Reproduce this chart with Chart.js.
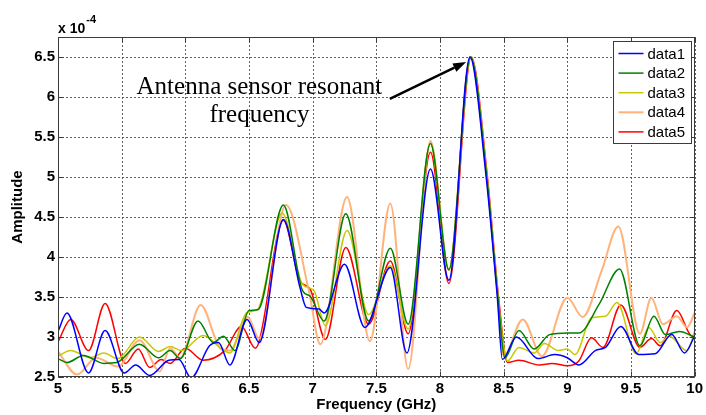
<!DOCTYPE html>
<html>
<head>
<meta charset="utf-8">
<script src="https://cdn.jsdelivr.net/npm/chart.js@4.4.1/dist/chart.umd.min.js"></script>
<style>
  html, body { margin: 0; padding: 0; background: #fff; }
  #wrap { width: 706px; height: 415px; }
</style>
</head>
<body>
<div id="wrap"><canvas id="c" width="706" height="415"></canvas></div>
<script>
// Amplitude spectra of five sensor measurements (amplitude in units of 1e-4)
const seriesNames  = ['data1', 'data2', 'data3', 'data4', 'data5'];
const seriesColors = ['#0000FF', '#008000', '#C8C800', '#FFB27A', '#FF0000'];
const seriesWidths = [1.5, 1.5, 1.5, 2, 1.5];

const data1Freq = [5.00, 5.07, 5.24, 5.37, 5.52, 5.61, 5.72, 5.87, 5.95, 6.045, 6.19, 6.26, 6.35, 6.485, 6.58, 6.77, 6.90, 6.95, 7.05, 7.09, 7.25, 7.41, 7.61, 7.74, 7.925, 8.07, 8.235, 8.36, 8.45, 8.49, 8.60, 8.77, 8.90, 9.00, 9.09, 9.22, 9.30, 9.42, 9.56, 9.69, 9.82, 9.92, 10.0];
const data1Amp  = [3.07, 3.30, 2.55, 3.08, 2.55, 2.65, 2.52, 2.71, 2.72, 2.49, 2.89, 2.93, 2.65, 3.22, 2.93, 4.47, 3.62, 3.37, 3.35, 3.30, 3.91, 3.12, 3.87, 2.80, 5.10, 3.71, 6.50, 5.04, 3.50, 2.72, 3.00, 2.73, 2.78, 2.74, 2.65, 2.83, 2.87, 3.13, 2.78, 2.79, 3.03, 2.80, 3.01];

const data2Freq = [5.00, 5.07, 5.20, 5.36, 5.46, 5.64, 5.79, 5.88, 5.96, 6.10, 6.22, 6.30, 6.39, 6.50, 6.57, 6.77, 6.92, 6.98, 7.09, 7.26, 7.44, 7.61, 7.75, 7.925, 8.07, 8.24, 8.365, 8.455, 8.51, 8.62, 8.74, 8.86, 9.00, 9.09, 9.25, 9.41, 9.57, 9.68, 9.77, 9.88, 10.0];
const data2Amp  = [2.73, 2.68, 2.77, 2.67, 2.68, 2.91, 2.74, 2.83, 2.73, 3.20, 2.93, 3.01, 2.83, 3.33, 3.34, 4.65, 3.58, 3.51, 3.20, 4.54, 3.20, 4.11, 3.16, 5.42, 3.84, 6.50, 5.04, 3.50, 2.74, 3.08, 2.85, 3.03, 3.05, 3.05, 3.41, 3.85, 2.89, 3.26, 3.03, 3.07, 3.00];

const data3Freq = [5.00, 5.10, 5.25, 5.36, 5.47, 5.64, 5.79, 5.88, 5.97, 6.14, 6.28, 6.35, 6.48, 6.57, 6.76, 6.92, 7.01, 7.10, 7.27, 7.44, 7.61, 7.75, 7.925, 8.07, 8.24, 8.365, 8.455, 8.53, 8.62, 8.74, 8.82, 8.93, 9.00, 9.06, 9.19, 9.30, 9.39, 9.54, 9.64, 9.73, 9.80, 9.94, 10.0];
const data3Amp  = [2.76, 2.83, 2.74, 2.80, 2.73, 3.00, 2.82, 2.88, 2.83, 3.02, 2.86, 2.80, 3.30, 3.35, 4.55, 3.66, 3.58, 3.14, 4.33, 3.28, 3.89, 3.10, 5.42, 3.84, 6.50, 5.04, 3.50, 2.70, 2.87, 2.80, 2.92, 2.83, 2.85, 2.78, 3.24, 3.26, 3.43, 2.79, 3.12, 2.93, 3.01, 2.83, 3.07];

const data4Freq = [5.00, 5.15, 5.30, 5.47, 5.64, 5.80, 5.88, 5.96, 6.12, 6.28, 6.35, 6.49, 6.58, 6.79, 6.97, 7.06, 7.27, 7.45, 7.61, 7.75, 7.925, 8.07, 8.24, 8.365, 8.455, 8.50, 8.65, 8.80, 9.00, 9.12, 9.27, 9.40, 9.57, 9.66, 9.75, 9.86, 9.94, 10.0];
const data4Amp  = [2.82, 2.53, 2.74, 2.63, 2.96, 2.57, 2.86, 2.74, 3.40, 2.85, 2.83, 3.25, 2.98, 4.65, 3.58, 2.91, 4.75, 2.95, 4.67, 2.60, 5.45, 3.84, 6.50, 5.04, 3.50, 2.76, 3.22, 2.76, 3.49, 3.25, 3.83, 4.38, 3.04, 3.49, 3.16, 3.26, 3.12, 3.30];

const data5Freq = [5.00, 5.10, 5.24, 5.37, 5.53, 5.63, 5.72, 5.81, 5.88, 6.00, 6.14, 6.31, 6.44, 6.55, 6.77, 6.90, 6.98, 7.10, 7.26, 7.44, 7.61, 7.75, 7.925, 8.07, 8.245, 8.37, 8.46, 8.53, 8.62, 8.78, 8.88, 9.00, 9.09, 9.19, 9.28, 9.42, 9.57, 9.66, 9.73, 9.86, 9.98, 10.0];
const data5Amp  = [2.94, 3.22, 2.83, 3.42, 2.67, 2.85, 2.62, 2.72, 2.67, 2.86, 2.71, 2.83, 3.13, 2.86, 4.46, 3.70, 3.60, 2.97, 4.12, 3.16, 3.95, 3.04, 5.31, 3.67, 6.50, 5.04, 3.50, 2.68, 2.71, 2.65, 2.67, 2.64, 2.70, 2.99, 2.87, 3.40, 2.87, 2.98, 2.89, 3.33, 3.01, 3.02];

const xTickValues = [5, 5.5, 6, 6.5, 7, 7.5, 8, 8.5, 9, 9.5, 10];
const yTickValues = [2.5, 3, 3.5, 4, 4.5, 5, 5.5, 6, 6.5];
const ampExponent = '-4';
const noteLines = ['Antenna sensor resonant', 'frequency'];

const freqs = [data1Freq, data2Freq, data3Freq, data4Freq, data5Freq];
const amps  = [data1Amp, data2Amp, data3Amp, data4Amp, data5Amp];

const datasets = seriesNames.map((name, i) => ({
  label: name,
  data: freqs[i].map((f, j) => ({ x: f, y: amps[i][j] })),
  borderColor: seriesColors[i],
  backgroundColor: seriesColors[i],
  borderWidth: seriesWidths[i],
  pointRadius: 0,
  cubicInterpolationMode: 'monotone',
  fill: false
}));

const AXIS_COLOR = '#3c3c3c';
const SANS = '"Liberation Sans", Arial, sans-serif';
const SERIF = '"Liberation Serif", "Times New Roman", serif';

// Dotted grid under the curves
const gridPlugin = {
  id: 'dottedGrid',
  beforeDatasetsDraw(chart) {
    const { ctx, chartArea: a, scales: { x, y } } = chart;
    ctx.save();
    ctx.strokeStyle = 'rgba(70,70,70,0.85)';
    ctx.lineWidth = 1;
    ctx.setLineDash([2, 2]);
    ctx.beginPath();
    xTickValues.forEach(v => {
      const px = Math.round(x.getPixelForValue(v)) + 0.5;
      ctx.moveTo(px, a.top); ctx.lineTo(px, a.bottom);
    });
    yTickValues.forEach(v => {
      const py = Math.round(y.getPixelForValue(v)) + 0.5;
      ctx.moveTo(a.left, py); ctx.lineTo(a.right, py);
    });
    ctx.stroke();
    ctx.restore();
  }
};

// Axes box, inner tick marks, exponent label, annotation and legend
const framePlugin = {
  id: 'frame',
  afterDatasetsDraw(chart) {
    const { ctx, chartArea: a, scales: { x, y } } = chart;
    const L = Math.round(a.left) + 0.5, R = Math.round(a.right) - 0.5;
    const T = Math.round(a.top) + 0.5, B = Math.round(a.bottom) - 0.5;
    ctx.save();
    ctx.strokeStyle = AXIS_COLOR;
    ctx.lineWidth = 1;
    ctx.setLineDash([]);
    ctx.strokeRect(L, T, R - L, B - T);
    ctx.beginPath();
    const tk = 5;
    xTickValues.forEach(v => {
      const px = Math.round(x.getPixelForValue(v)) + 0.5;
      ctx.moveTo(px, B); ctx.lineTo(px, B - tk);
      ctx.moveTo(px, T); ctx.lineTo(px, T + tk);
    });
    yTickValues.forEach(v => {
      const py = Math.round(y.getPixelForValue(v)) + 0.5;
      ctx.moveTo(L, py); ctx.lineTo(L + tk, py);
      ctx.moveTo(R, py); ctx.lineTo(R - tk, py);
    });
    ctx.stroke();

    // exponent of the amplitude axis
    ctx.fillStyle = '#000';
    ctx.textAlign = 'left';
    ctx.textBaseline = 'alphabetic';
    ctx.font = 'bold 14px ' + SANS;
    ctx.fillText('x 10', a.left, a.top - 4);
    const w = ctx.measureText('x 10').width;
    ctx.font = 'bold 11px ' + SANS;
    ctx.fillText(ampExponent, a.left + w + 1, a.top - 14);

    // annotation text and arrow
    ctx.font = '25px ' + SERIF;
    ctx.textAlign = 'center';
    const tx = x.getPixelForValue(6.582);
    ctx.fillText(noteLines[0], tx, y.getPixelForValue(6.034));
    ctx.fillText(noteLines[1], tx, y.getPixelForValue(5.685));

    const x0 = x.getPixelForValue(7.606), y0 = y.getPixelForValue(5.977);
    const x1 = x.getPixelForValue(8.205), y1 = y.getPixelForValue(6.438);
    const ang = Math.atan2(y1 - y0, x1 - x0);
    const hl = 13, hw = 4.5;
    const bx = x1 - hl * Math.cos(ang), by = y1 - hl * Math.sin(ang);
    ctx.strokeStyle = '#000';
    ctx.lineWidth = 2.5;
    ctx.beginPath();
    ctx.moveTo(x0, y0); ctx.lineTo(bx, by);
    ctx.stroke();
    ctx.fillStyle = '#000';
    ctx.beginPath();
    ctx.moveTo(x1, y1);
    ctx.lineTo(bx + hw * Math.sin(ang), by - hw * Math.cos(ang));
    ctx.lineTo(bx - hw * Math.sin(ang), by + hw * Math.cos(ang));
    ctx.closePath();
    ctx.fill();

    // legend box in the upper right corner
    const lw = 78, lh = 102;
    const lx = Math.round(a.right) - 4 - lw + 0.5, ly = Math.round(a.top) + 4 + 0.5;
    ctx.fillStyle = '#fff';
    ctx.fillRect(lx, ly, lw, lh);
    ctx.strokeStyle = AXIS_COLOR;
    ctx.lineWidth = 1;
    ctx.strokeRect(lx, ly, lw, lh);
    ctx.font = '15px ' + SANS;
    ctx.textAlign = 'left';
    ctx.textBaseline = 'middle';
    chart.data.datasets.forEach((ds, i) => {
      const ey = ly + 12 + i * 19.6;
      ctx.strokeStyle = ds.borderColor;
      ctx.lineWidth = ds.borderWidth;
      ctx.beginPath();
      ctx.moveTo(lx + 5, ey); ctx.lineTo(lx + 30, ey);
      ctx.stroke();
      ctx.fillStyle = '#000';
      ctx.fillText(ds.label, lx + 34, ey + 1);
    });
    ctx.restore();
  }
};

const fmt = v => String(+Number(v).toFixed(2));

new Chart(document.getElementById('c'), {
  type: 'line',
  data: { datasets },
  options: {
    responsive: false,
    animation: false,
    devicePixelRatio: 1,
    layout: { padding: { top: 37, right: 9, bottom: 0, left: 0 } },
    plugins: { legend: { display: false }, tooltip: { enabled: false } },
    scales: {
      x: {
        type: 'linear',
        min: 5, max: 10,
        afterBuildTicks: s => { s.ticks = xTickValues.map(v => ({ value: v })); },
        afterFit: s => { s.height = 38; },
        grid: { display: false, drawTicks: false },
        border: { display: false },
        ticks: { color: '#000', font: { family: SANS, size: 15, weight: 'bold' }, padding: 3, maxRotation: 0, autoSkip: false, callback: fmt },
        title: { display: true, text: 'Frequency (GHz)', color: '#000', font: { family: SANS, size: 15, weight: 'bold' }, padding: { top: 0, bottom: 1 } }
      },
      y: {
        type: 'linear',
        min: 2.5, max: 6.75,
        afterBuildTicks: s => { s.ticks = yTickValues.map(v => ({ value: v })); },
        afterFit: s => { s.width = 58; },
        grid: { display: false, drawTicks: false },
        border: { display: false },
        ticks: { color: '#000', font: { family: SANS, size: 15, weight: 'bold' }, padding: 3, callback: fmt },
        title: { display: true, text: 'Amplitude', color: '#000', font: { family: SANS, size: 15, weight: 'bold' }, padding: { top: 9, bottom: 0 } }
      }
    }
  },
  plugins: [gridPlugin, framePlugin]
});
</script>
</body>
</html>
